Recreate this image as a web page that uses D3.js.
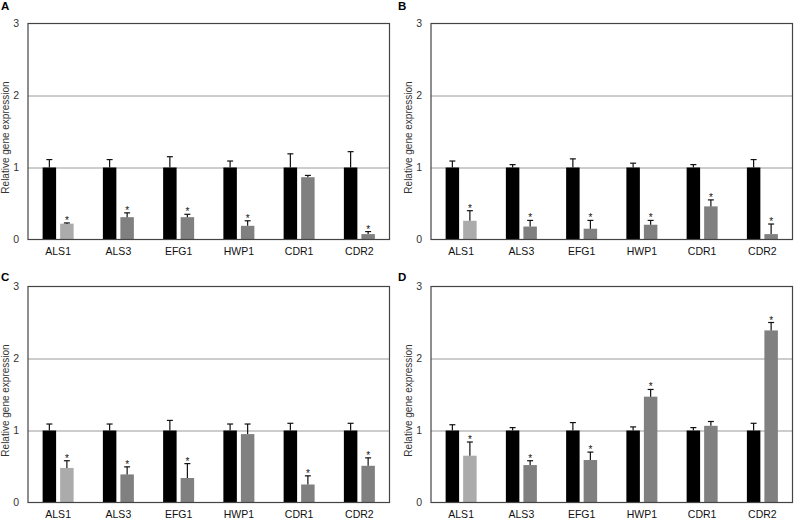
<!DOCTYPE html>
<html>
<head>
<meta charset="utf-8">
<script src="https://cdn.jsdelivr.net/npm/d3@7"></script>
<style>
  body { margin: 0; background: #fff; }
  svg { display: block; font-family: "Liberation Sans", Arial, sans-serif; }
</style>
</head>
<body>
<div id="chart"></div>
<script>
// genes on the x axis, same in every panel
var genes = ["ALS1", "ALS3", "EFG1", "HWP1", "CDR1", "CDR2"];
var panelNames = ["A", "B", "C", "D"];
var yTicks = [0, 1, 2, 3];

// control (black) bars, all normalised to 1
var controlA = [1, 1, 1, 1, 1, 1];
var controlB = [1, 1, 1, 1, 1, 1];
var controlC = [1, 1, 1, 1, 1, 1];
var controlD = [1, 1, 1, 1, 1, 1];
var controlErrA = [0.11, 0.11, 0.15, 0.09, 0.19, 0.22];
var controlErrB = [0.09, 0.04, 0.12, 0.06, 0.04, 0.11];
var controlErrC = [0.09, 0.09, 0.14, 0.09, 0.10, 0.10];
var controlErrD = [0.08, 0.04, 0.11, 0.05, 0.04, 0.10];

// treated (grey) bars
var treatA = [0.22, 0.31, 0.31, 0.19, 0.865, 0.075];
var treatB = [0.26, 0.18, 0.15, 0.205, 0.46, 0.075];
var treatC = [0.48, 0.39, 0.34, 0.95, 0.25, 0.51];
var treatD = [0.65, 0.52, 0.59, 1.47, 1.065, 2.39];
var treatErrA = [0.01, 0.06, 0.04, 0.07, 0.025, 0.035];
var treatErrB = [0.14, 0.085, 0.115, 0.06, 0.09, 0.14];
var treatErrC = [0.10, 0.105, 0.20, 0.14, 0.12, 0.11];
var treatErrD = [0.19, 0.06, 0.11, 0.10, 0.06, 0.11];

// asterisks over the grey bars
var sigA = [1, 1, 1, 1, 0, 1];
var sigB = [1, 1, 1, 1, 1, 1];
var sigC = [1, 1, 1, 0, 1, 1];
var sigD = [1, 1, 1, 1, 0, 1];

function init() {

    var w = 794;
    var h = 519;

    var panels = [
        {name: "A", ctl: controlA, ctlErr: controlErrA, trt: treatA, trtErr: treatErrA, sig: sigA, x: 28, y: 23.5},
        {name: "B", ctl: controlB, ctlErr: controlErrB, trt: treatB, trtErr: treatErrB, sig: sigB, x: 431, y: 23.5},
        {name: "C", ctl: controlC, ctlErr: controlErrC, trt: treatC, trtErr: treatErrC, sig: sigC, x: 28, y: 286.5},
        {name: "D", ctl: controlD, ctlErr: controlErrD, trt: treatD, trtErr: treatErrD, sig: sigD, x: 431, y: 286.5}
    ];

    var pw = 361.5;
    var ph = 216;

    var svg = d3.select("#chart")
        .append("svg")
        .attr("width", w)
        .attr("height", h);

    var xScale = d3.scaleBand()
        .domain(genes)
        .range([0, pw])
        .paddingInner(0)
        .paddingOuter(0);

    var bw = xScale.bandwidth();

    var subScale = d3.scaleBand()
        .domain([0, 1])
        .range([bw / 2 - 15.5, bw / 2 + 15.5])
        .paddingInner(0.23);

    var yScale = d3.scaleLinear()
        .domain([0, 3])
        .range([ph, 0]);

    panels.forEach(function(p) {

        var g = svg.append("g")
            .attr("transform", "translate(" + p.x + "," + p.y + ")");

        // panel letter
        g.append("text")
            .attr("x", p.x === 28 ? -27 : -33)
            .attr("y", p.name === "A" || p.name === "B" ? -13.5 : -6)
            .attr("font-size", 11.5)
            .attr("font-weight", "bold")
            .text(p.name);

        // gridlines
        g.selectAll(".grid")
            .data(yTicks.filter(function(t) { return t > 0 && t < 3; }))
            .enter()
            .append("line")
            .attr("x1", 0)
            .attr("x2", pw)
            .attr("y1", function(d) { return Math.round(yScale(d)) + 0.5; })
            .attr("y2", function(d) { return Math.round(yScale(d)) + 0.5; })
            .attr("stroke", "#9a9a9a")
            .attr("stroke-width", 1);

        // y axis labels
        var yAxis = d3.axisLeft(yScale)
            .tickValues(yTicks)
            .tickSize(0)
            .tickPadding(9)
            .tickFormat(d3.format("d"));

        var ya = g.append("g").call(yAxis);
        ya.select(".domain").remove();
        ya.selectAll("text")
            .attr("font-size", 10.5)
            .attr("fill", "#333")
            .attr("font-family", "Liberation Sans, Arial, sans-serif");

        // y title
        g.append("text")
            .attr("transform", "translate(" + (-19) + "," + (ph / 2 + 6) + ") rotate(-90)")
            .attr("text-anchor", "middle")
            .attr("font-size", 10)
            .attr("fill", "#333")
            .text("Relative gene expression");

        // x labels
        var xAxis = d3.axisBottom(xScale)
            .tickSize(0)
            .tickPadding(8);

        var xa = g.append("g")
            .attr("transform", "translate(0," + ph + ")")
            .call(xAxis);
        xa.select(".domain").remove();
        xa.selectAll("text")
            .attr("font-size", 10.5)
            .attr("fill", "#111")
            .attr("font-family", "Liberation Sans, Arial, sans-serif");

        var rows = genes.map(function(gene, i) {
            return {gene: gene, i: i, ctl: p.ctl[i], ctlErr: p.ctlErr[i],
                    trt: p.trt[i], trtErr: p.trtErr[i], sig: p.sig[i]};
        });

        // black bars
        g.selectAll(".ctl")
            .data(rows)
            .enter()
            .append("rect")
            .attr("x", function(d) { return xScale(d.gene) + subScale(0); })
            .attr("y", function(d) { return yScale(d.ctl); })
            .attr("width", subScale.bandwidth())
            .attr("height", function(d) { return ph - yScale(d.ctl); })
            .attr("fill", "#000");

        // grey bars
        g.selectAll(".trt")
            .data(rows)
            .enter()
            .append("rect")
            .attr("x", function(d) { return xScale(d.gene) + subScale(1); })
            .attr("y", function(d) { return yScale(d.trt); })
            .attr("width", subScale.bandwidth())
            .attr("height", function(d) { return ph - yScale(d.trt); })
            .attr("fill", function(d) { return d.gene === "ALS1" ? "#ababab" : "#808080"; });

        // error bars (upper only)
        var errs = [];
        rows.forEach(function(d) {
            errs.push({cx: xScale(d.gene) + subScale(0) + subScale.bandwidth() / 2, v: d.ctl, e: d.ctlErr, sig: 0});
            errs.push({cx: xScale(d.gene) + subScale(1) + subScale.bandwidth() / 2, v: d.trt, e: d.trtErr, sig: d.sig});
        });

        g.selectAll(".errv")
            .data(errs)
            .enter()
            .append("line")
            .attr("x1", function(d) { return d.cx; })
            .attr("x2", function(d) { return d.cx; })
            .attr("y1", function(d) { return yScale(d.v); })
            .attr("y2", function(d) { return yScale(d.v + d.e); })
            .attr("stroke", "#111")
            .attr("stroke-width", 1.2);

        g.selectAll(".errc")
            .data(errs)
            .enter()
            .append("line")
            .attr("x1", function(d) { return d.cx - 3; })
            .attr("x2", function(d) { return d.cx + 3; })
            .attr("y1", function(d) { return yScale(d.v + d.e); })
            .attr("y2", function(d) { return yScale(d.v + d.e); })
            .attr("stroke", "#111")
            .attr("stroke-width", 1.2);

        g.selectAll(".star")
            .data(errs.filter(function(d) { return d.sig; }))
            .enter()
            .append("text")
            .attr("x", function(d) { return d.cx; })
            .attr("y", function(d) { return yScale(d.v + d.e) + 1; })
            .attr("text-anchor", "middle")
            .attr("font-size", 10)
            .attr("fill", "#111")
            .text("*");

        // frame
        g.append("rect")
            .attr("x", 0)
            .attr("y", 0)
            .attr("width", pw)
            .attr("height", ph)
            .attr("fill", "none")
            .attr("stroke", "#444")
            .attr("stroke-width", 1.2);
    });
}
window.onload = init;
</script>
</body>
</html>
